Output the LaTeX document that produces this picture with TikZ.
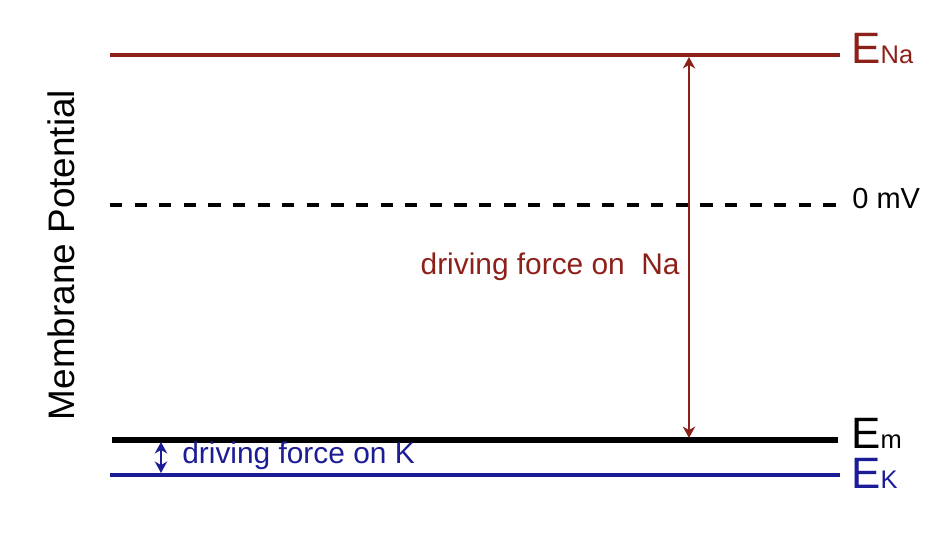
\documentclass[tikz,border=0pt]{standalone}
\usepackage{fontspec}
\setmainfont{Liberation Sans}
\usetikzlibrary{arrows.meta}
\usetikzlibrary{positioning}
\definecolor{nared}{RGB}{142,32,26}
\definecolor{kblue}{RGB}{28,28,150}

\begin{document}
\begin{tikzpicture}[x=0.02cm,y=0.02cm,
  potline/.style={line width=1.9pt},
  drivearrow/.style={line width=1.6pt,{Stealth[length=6.5pt,width=7pt,inset=2pt]}-{Stealth[length=6.5pt,width=7pt,inset=2pt]}},
  drivetext/.style={font=\fontsize{17}{20}\selectfont},
  bigE/.style={anchor=base west,inner sep=0pt,font=\fontsize{25}{25}\selectfont}]
\useasboundingbox (0,0) rectangle (950,542);
% potential levels
\coordinate (enaL) at (110,487); \coordinate (enaR) at (840,487);
\coordinate (zeroL) at (110,337); \coordinate (zeroR) at (836,337);
\coordinate (emL) at (112,102); \coordinate (emR) at (838,102);
\coordinate (ekL) at (110,67); \coordinate (ekR) at (840,67);
\draw[potline,nared] (enaL) -- (enaR);
\draw[potline,dash pattern=on 7pt off 7pt] (zeroL) -- (zeroR);
\draw[line width=3.2pt] (emL) -- (emR);
\draw[potline,kblue] (ekL) -- (ekR);
% labels on the right
\node[bigE,text=nared] (enaLbl) at (851,479) {E{\fontsize{14.5}{14.5}\selectfont Na}};
\node[anchor=base west,inner sep=0pt,font=\fontsize{16.5}{18}\selectfont] (zeroLbl) at (852,334) {0 mV};
\node[bigE] (emLbl) at (851,94) {E{\fontsize{14.5}{14.5}\selectfont m}};
\node[bigE,text=kblue] (ekLbl) at (851,54) {E{\fontsize{14.5}{14.5}\selectfont K}};
% axis title
\node[rotate=90,anchor=base,inner sep=0pt,font=\fontsize{21}{24}\selectfont] (axisLbl) at (74,287) {Membrane Potential};
% driving forces
\coordinate (naTop) at (689,485); \coordinate (naBot) at (689,104);
\coordinate (kTop) at (161,100); \coordinate (kBot) at (161,69);
\draw[drivearrow,nared] (naTop) -- (naBot);
\draw[drivearrow,kblue,line width=1.3pt] (kTop) -- (kBot);
\node[drivetext,anchor=base east,inner sep=0pt,text=nared] (naForce) at (680,268) {driving force on\ \ Na};
\node[drivetext,anchor=base west,inner sep=0pt,text=kblue] (kForce) at (182,79) {driving force on K};
\end{tikzpicture}
\end{document}
